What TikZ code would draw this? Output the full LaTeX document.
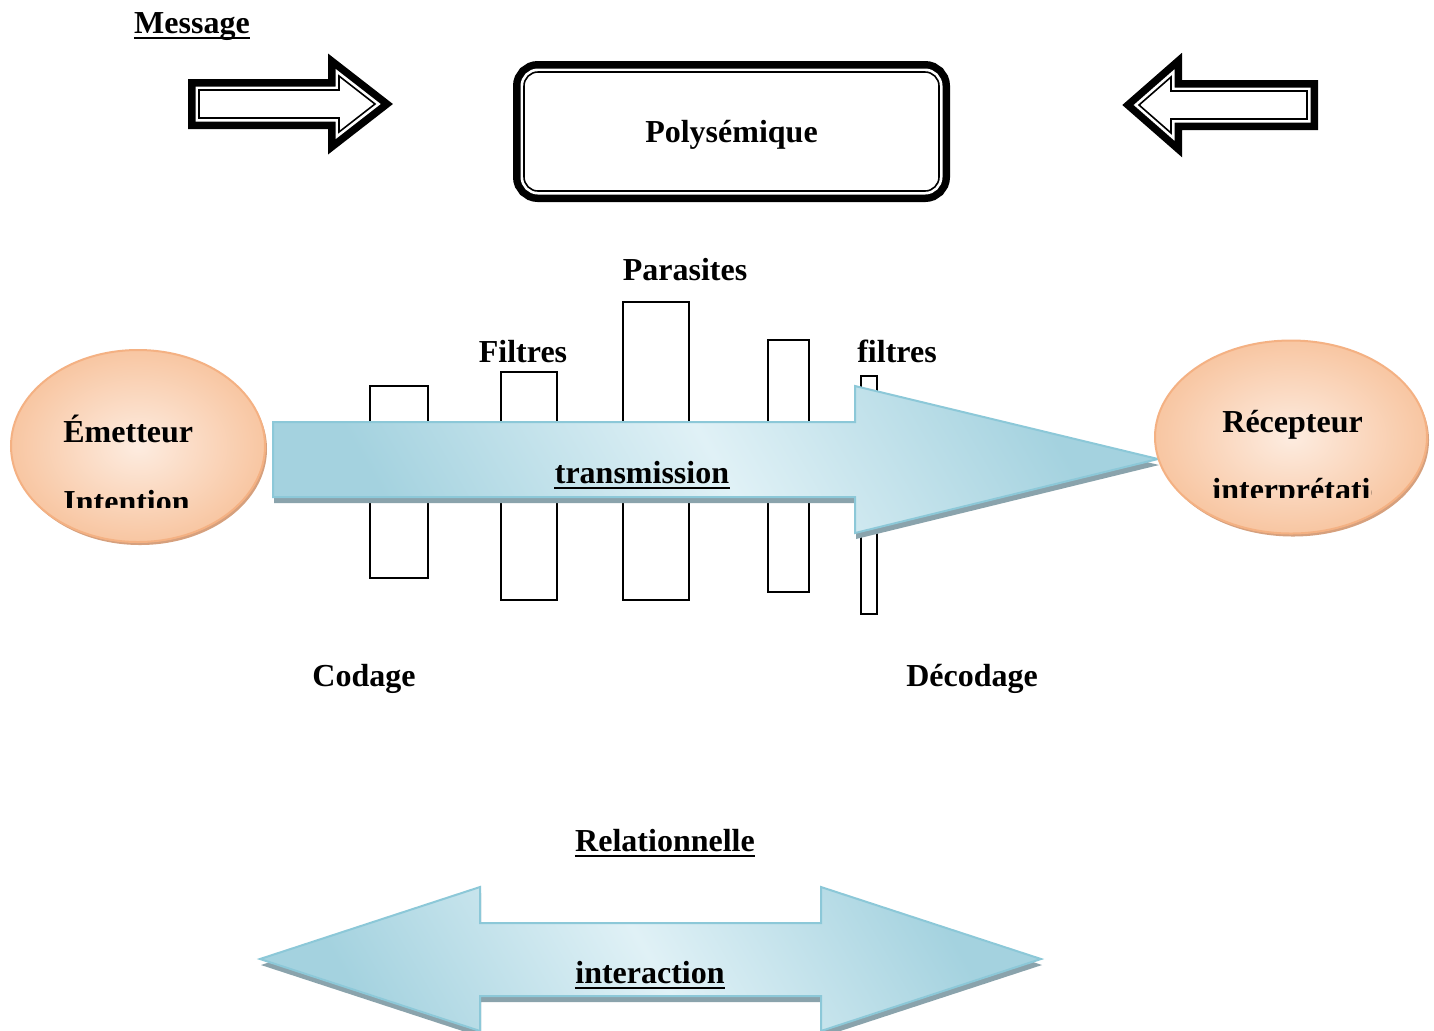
\documentclass[tikz,border=0pt]{standalone}
\usepackage{fontspec}
\setmainfont{Liberation Serif}
\usepackage{xcolor}
\usetikzlibrary{shapes.geometric,shadows,positioning}

\definecolor{peachline}{RGB}{244,177,131}
\definecolor{peachdark}{RGB}{248,198,162}
\definecolor{peachlight}{RGB}{253,236,224}
\definecolor{peachshade}{RGB}{214,160,125}
\definecolor{blueline}{RGB}{140,200,216}
\definecolor{bluedark}{RGB}{164,210,223}
\definecolor{bluelight}{RGB}{224,241,246}
\definecolor{blueshade}{RGB}{138,163,172}

\begin{document}
\begin{tikzpicture}[
    x=0.5pt, y=-0.5pt,
    font=\fontsize{16}{19}\selectfont\bfseries,
    lbl/.style={inner sep=0pt, anchor=base},
    uline/.style={line width=1.2pt},
    filter/.style={draw, line width=0.7pt},
    hollow/.style={draw=black, fill=white, line width=0.8pt, line join=miter,
        preaction={draw=black, line width=11pt},
        preaction={draw=white, fill=white, line width=3.5pt}},
    person/.style={ellipse, draw=peachline, line width=1pt,
        inner color=peachlight, outer color=peachdark,
        drop shadow={shadow xshift=1pt, shadow yshift=-1.5pt, fill=peachshade, opacity=1}},
    bluearrow/.style={draw=blueline, line width=1pt,
        top color=bluedark, bottom color=bluedark, middle color=bluelight, shading angle=-60,
        drop shadow={shadow xshift=0.5pt, shadow yshift=-3pt, fill=blueshade, opacity=1}}
]
    \useasboundingbox[fill=white] (0,0) rectangle (1434,1030);

    % message
    \node[lbl] (msg) at (192,33) {Message};
    \draw[uline] ([yshift=-2.5pt]msg.base west) -- ([yshift=-2.5pt]msg.base east);

    \draw[hollow] (199,90) -- (339,90) -- (339,76) -- (375,104) -- (339,132) -- (339,118) -- (199,118) -- cycle;
    \draw[hollow] (1307,91) -- (1171,91) -- (1171,77) -- (1139,105) -- (1171,133) -- (1171,119) -- (1307,119) -- cycle;

    \node[hollow, rounded corners=7pt, minimum width=207.5pt, minimum height=59.5pt, text depth=0pt] (poly) at (731.5,131.5) {Polysémique};

    % filtres et parasites
    \draw[filter] (370,386) rectangle (428,578);
    \draw[filter] (501,372) rectangle (557,600);
    \draw[filter] (623,302) rectangle (689,600);
    \draw[filter] (768,340) rectangle (809,592);
    \draw[filter] (861,376) rectangle (877,614);

    \node[lbl] (parasites) at (685,280) {Parasites};
    \node[lbl] (filtresA) at (523,362) {Filtres};
    \node[lbl] (filtresB) at (897,362) {filtres};

    % transmission
    \draw[bluearrow] (273,422) -- (855,422) -- (855,386) -- (1158,459) -- (855,533) -- (855,497) -- (273,497) -- cycle;
    \node[lbl] (trans) at (642,483) {transmission};
    \draw[uline] ([yshift=-2.5pt]trans.base west) -- ([yshift=-2.5pt]trans.base east);

    \node[person, minimum width=127pt, minimum height=96pt] (emet) at (138,446) {};
    \node[person, minimum width=136pt, minimum height=96.5pt] (recep) at (1291,437) {};

    \begin{scope}
        \clip (0,300) rectangle (300,507);
        \node[lbl, anchor=base west] (emtxt) at (63,442) {Émetteur};
        \node[lbl, anchor=base west] (intent) at (63,512) {Intention};
    \end{scope}
    \begin{scope}
        \clip (1150,300) rectangle (1371,497);
        \node[lbl, anchor=base west] (rectxt) at (1222,432) {Récepteur};
        \node[lbl, anchor=base west] (interp) at (1212,500) {interprétation};
    \end{scope}

    \node[lbl] (codage) at (364,686) {Codage};
    \node[lbl] (decodage) at (972,686) {Décodage};

    % relation
    \node[lbl] (relat) at (665,851) {Relationnelle};
    \draw[uline] ([yshift=-2.5pt]relat.base west) -- ([yshift=-2.5pt]relat.base east);

    \draw[bluearrow] (260,959) -- (480,887) -- (480,923) -- (821,923) -- (821,887) -- (1041,959)
        -- (821,1031) -- (821,996) -- (480,996) -- (480,1031) -- cycle;
    \node[lbl] (inter) at (650,983) {interaction};
    \draw[uline] ([yshift=-2.5pt]inter.base west) -- ([yshift=-2.5pt]inter.base east);
\end{tikzpicture}
\end{document}
